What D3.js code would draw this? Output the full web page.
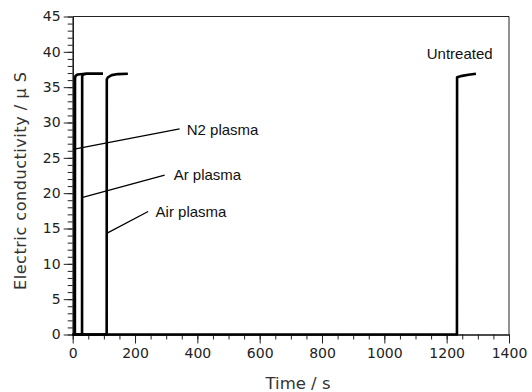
<!DOCTYPE html>
<html>
<head>
<meta charset="utf-8">
<script src="https://cdn.jsdelivr.net/npm/d3@7"></script>
<style>
  body { margin: 0; background: #fff; }
  text { font-family: "Liberation Sans", Arial, sans-serif; fill: #111; }
</style>
</head>
<body>
<script>
var width = 532
var height = 392

// time (s), conductivity (uS)
var n2Plasma = [[0, 0], [7, 0], [7.4, 36.2], [9, 36.6], [16, 36.8], [40, 36.9], [97, 36.9]]
var arPlasma = [[0, 0], [30, 0], [30.4, 36.5], [33, 36.8], [45, 36.9], [97, 36.9]]
var airPlasma = [[0, 0], [109, 0], [109.4, 36.1], [113, 36.4], [125, 36.7], [145, 36.85], [177, 36.9]]
var untreated = [[0, 0], [1233, 0], [1233.4, 36.4], [1250, 36.6], [1270, 36.75], [1294, 36.9]]

var xTicks = [0, 200, 400, 600, 800, 1000, 1200, 1400]
var yTicks = [0, 5, 10, 15, 20, 25, 30, 35, 40, 45]

// label text, anchor point, leader line [from, to]
var labels = [
    { text: 'N2 plasma', at: [366, 28.2], leader: [[1, 26.2], [343, 29.1]] },
    { text: 'Ar plasma', at: [324, 21.8], leader: [[32, 19.4], [295, 22.55]] },
    { text: 'Air plasma', at: [266, 16.6], leader: [[109, 14.3], [242, 17.4]] },
    { text: 'Untreated', at: [1136, 39.0], leader: null }
]

var x = d3.scaleLinear().domain([0, 1400]).range([72.7, 509])
var y = d3.scaleLinear().domain([0, 45]).range([334.5, 16.5])

var svg = d3.select('body').append('svg')
    .attr('width', width)
    .attr('height', height)

// frame top / right
svg.append('path')
    .attr('d', 'M' + x(0) + ',' + y(45) + 'H' + x(1400) + 'V' + y(0))
    .style('fill', 'none')
    .style('stroke', '#222')
    .style('stroke-width', 1)

// minor ticks
svg.append('g')
    .attr('transform', 'translate(0,' + y(0) + ')')
    .call(d3.axisBottom(x).tickValues(d3.range(0, 1401, 50)).tickSize(5).tickFormat(''))
    .call(function(g) { g.select('.domain').remove() })
svg.append('g')
    .attr('transform', 'translate(' + x(0) + ',0)')
    .call(d3.axisLeft(y).tickValues(d3.range(0, 46, 1)).tickSize(5).tickFormat(''))
    .call(function(g) { g.select('.domain').remove() })

var xAxis = svg.append('g')
    .attr('transform', 'translate(0,' + y(0) + ')')
    .call(d3.axisBottom(x).tickValues(xTicks).tickSize(9).tickSizeOuter(0).tickPadding(5)
        .tickFormat(d3.format('d')))
var yAxis = svg.append('g')
    .attr('transform', 'translate(' + x(0) + ',0)')
    .call(d3.axisLeft(y).tickValues(yTicks).tickSize(9).tickSizeOuter(0).tickPadding(3)
        .tickFormat(d3.format('d')))

svg.selectAll('.tick line').style('stroke', '#222').style('stroke-width', 1)
svg.selectAll('.domain').style('stroke', '#111').style('stroke-width', 1.5)
svg.selectAll('.tick text')
    .style('font-family', '"DejaVu Sans", sans-serif')
    .style('font-size', '14px')
    .style('fill', '#222')

var line = d3.line()
    .x(function(d) { return x(d[0]) })
    .y(function(d) { return y(d[1]) })

svg.append('g')
    .selectAll('path')
    .data([untreated, airPlasma, arPlasma, n2Plasma])
    .enter().append('path')
    .attr('d', line)
    .style('fill', 'none')
    .style('stroke', '#000')
    .style('stroke-width', 2.6)
    .style('stroke-linejoin', 'round')

svg.append('g')
    .selectAll('line')
    .data(labels.filter(function(d) { return d.leader }))
    .enter().append('line')
    .attr('x1', function(d) { return x(d.leader[0][0]) })
    .attr('y1', function(d) { return y(d.leader[0][1]) })
    .attr('x2', function(d) { return x(d.leader[1][0]) })
    .attr('y2', function(d) { return y(d.leader[1][1]) })
    .style('stroke', '#000')
    .style('stroke-width', 1.3)

svg.append('g')
    .selectAll('text')
    .data(labels)
    .enter().append('text')
    .attr('x', function(d) { return x(d.at[0]) })
    .attr('y', function(d) { return y(d.at[1]) })
    .style('font-size', '15px')
    .text(function(d) { return d.text })

svg.append('text')
    .attr('x', 298)
    .attr('y', 389)
    .attr('text-anchor', 'middle')
    .style('font-family', '"DejaVu Sans", sans-serif')
    .style('font-size', '16.5px')
    .style('fill', '#333')
    .text('Time / s')

svg.append('text')
    .attr('transform', 'translate(26,181) rotate(-90)')
    .attr('text-anchor', 'middle')
    .attr('textLength', 218)
    .attr('lengthAdjust', 'spacing')
    .style('font-family', '"DejaVu Sans", sans-serif')
    .style('font-size', '16px')
    .style('fill', '#333')
    .text('Electric conductivity / \u03bc S')
</script>
</body>
</html>
